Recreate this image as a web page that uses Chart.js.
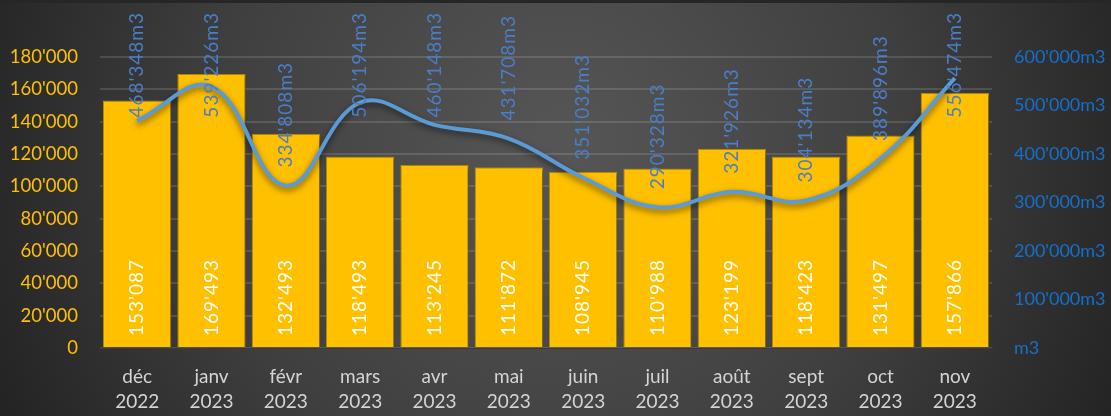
<!DOCTYPE html>
<html>
<head>
<meta charset="utf-8">
<script src="https://cdn.jsdelivr.net/npm/chart.js@4/dist/chart.umd.min.js"></script>
<style>
  html, body { margin: 0; padding: 0; background: #262626; }
  #wrap { width: 1111px; height: 416px; }
</style>
</head>
<body>
<div id="wrap"><canvas id="myChart" width="1111" height="416"></canvas></div>
<script>
"use strict";

// Data

const months = ["déc", "janv", "févr", "mars", "avr", "mai", "juin", "juil", "août", "sept", "oct", "nov"];
const years = ["2022", "2023", "2023", "2023", "2023", "2023", "2023", "2023", "2023", "2023", "2023", "2023"];
const barValues = [153087, 169493, 132493, 118493, 113245, 111872, 108945, 110988, 123199, 118423, 131497, 157866];
const lineValues = [468348, 539226, 334808, 506194, 460148, 431708, 351032, 290328, 321926, 304134, 389896, 556474];

const FONT = "Lato, 'Open Sans', sans-serif";

const fmt = (v) => String(v).replace(/\B(?=(\d{3})+(?!\d))/g, "'");

// background gradient
const bgPlugin = {
  id: "bg",
  beforeDraw(chart) {
    const ctx = chart.ctx;
    const w = chart.width, h = chart.height;
    const g = ctx.createRadialGradient(560, 150, 20, 560, 150, 620);
    g.addColorStop(0, "#555555");
    g.addColorStop(0.55, "#3f3f3f");
    g.addColorStop(1, "#232323");
    ctx.save();
    ctx.fillStyle = g;
    ctx.fillRect(0, 0, w, h);
    ctx.fillStyle = "#262626";
    ctx.fillRect(0, 0, w, 3);
    ctx.restore();
  },
};

// shadow under line and bars
const shadowPlugin = {
  id: "shadow",
  beforeDatasetDraw(chart, args) {
    const ctx = chart.ctx;
    ctx.save();
    if (args.index === 1) {
      ctx.shadowColor = "rgba(0,0,0,0.55)";
      ctx.shadowBlur = 6;
      ctx.shadowOffsetY = 3;
    } else {
      ctx.shadowColor = "rgba(0,0,0,0.35)";
      ctx.shadowBlur = 4;
      ctx.shadowOffsetX = 2;
      ctx.shadowOffsetY = 2;
    }
  },
  afterDatasetDraw(chart) {
    chart.ctx.restore();
  },
};

// rotated data labels
const labelPlugin = {
  id: "labels",
  afterDatasetsDraw(chart) {
    const ctx = chart.ctx;
    ctx.save();
    ctx.font = "19px " + FONT;
    ctx.letterSpacing = "1px";
    ctx.textBaseline = "middle";

    const bars = chart.getDatasetMeta(0).data;
    bars.forEach((el, i) => {
      ctx.save();
      ctx.translate(el.x, el.base - 11);
      ctx.rotate(-Math.PI / 2);
      ctx.textAlign = "left";
      ctx.fillStyle = "#ffffff";
      ctx.fillText(fmt(barValues[i]), 0, 0);
      ctx.restore();
    });

    const pts = chart.getDatasetMeta(1).data;
    pts.forEach((el, i) => {
      const txt = fmt(lineValues[i]) + "m3";
      const tw = ctx.measureText(txt).width;
      let end = el.y - 18;
      if (end - tw < 12) end = 12 + tw;
      ctx.save();
      ctx.translate(el.x, end);
      ctx.rotate(-Math.PI / 2);
      ctx.textAlign = "left";
      ctx.fillStyle = "#4a7ec8";
      ctx.fillText(txt, 0, 0);
      ctx.restore();
    });
    ctx.restore();
  },
};

const ctx = document.getElementById("myChart").getContext("2d");
const myChart = new Chart(ctx, {
  type: "bar",
  data: {
    labels: months.map((m, i) => [m, years[i]]),
    datasets: [
      {
        type: "bar",
        data: barValues,
        yAxisID: "y",
        backgroundColor: "#ffc000",
        borderColor: "#b88a00",
        borderWidth: 1,
        barPercentage: 0.92,
        categoryPercentage: 1,
        order: 2,
      },
      {
        type: "line",
        data: lineValues,
        yAxisID: "y1",
        borderColor: "#5b9bd5",
        borderWidth: 4,
        tension: 0.4,
        pointRadius: 0,
        fill: false,
        order: 1,
      },
    ],
  },
  options: {
    responsive: false,
    animation: false,
    layout: { padding: { top: 57, left: 0, right: 0, bottom: 0 }, autoPadding: false },
    plugins: { legend: { display: false }, tooltip: { enabled: false } },
    scales: {
      x: {
        grid: { display: false },
        border: { display: true, color: "#3a3a3a", width: 1 },
        ticks: {
          color: "#d4d4d4",
          font: { family: FONT, size: 19, lineHeight: 1.32 },
          padding: 8,
          maxRotation: 0,
          autoSkip: false,
        },
        afterFit: (scale) => { scale.height = 68; },
      },
      y: {
        position: "left",
        min: 0,
        max: 180000,
        ticks: {
          stepSize: 20000,
          color: "#ffc000",
          font: { family: FONT, size: 18.5 },
          padding: 22,
          callback: (v) => fmt(v),
        },
        grid: { color: "rgba(255,255,255,0.13)", drawTicks: false, lineWidth: 2 },
        border: { display: false },
        afterFit: (scale) => { scale.width = 100; },
      },
      y1: {
        position: "right",
        min: 0,
        max: 600000,
        ticks: {
          stepSize: 100000,
          color: "#1470cc",
          font: { family: FONT, size: 18 },
          padding: 14,
          callback: (v) => (v === 0 ? "m3" : fmt(v) + "m3"),
        },
        grid: { display: false },
        border: { display: false },
        afterFit: (scale) => { scale.width = 119; },
      },
    },
  },
  plugins: [bgPlugin, shadowPlugin, labelPlugin],
});
</script>
</body>
</html>
